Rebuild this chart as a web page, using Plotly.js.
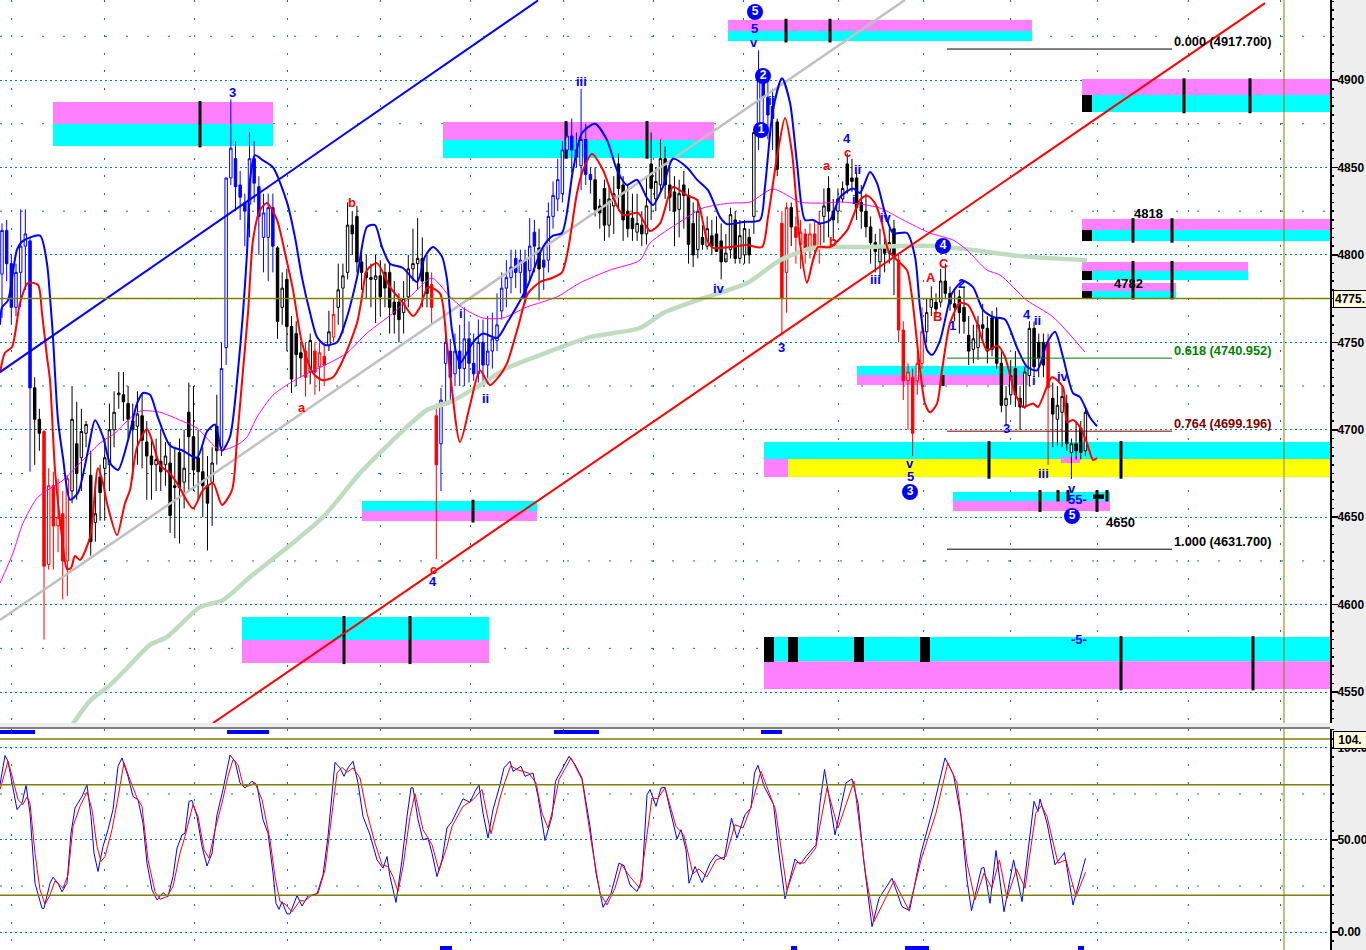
<!DOCTYPE html>
<html><head><meta charset="utf-8">
<script src="https://cdn.plot.ly/plotly-3.0.1.min.js"></script>
<style>html,body{margin:0;padding:0;background:#eee;overflow:hidden}#c{width:1366px;height:950px}</style>
</head><body><div id="c"></div>
<script>
// candle rows: open, close, high, low
const barsA=[
[4789,4814,4818,4764],[4814,4795,4820,4785],[4795,4770,4800,4760],[4770,4790,4795,4765],[4790,4805,4826,4770],[4805,4812,4826,4780],[4808,4724,4810,4676],
[4724,4706,4730,4680],[4706,4698,4712,4688],[4699,4622,4700,4580],[4623,4668,4678,4620],[4668,4645,4676,4620],[4645,4650,4672,4630],[4652,4625,4665,4603],[4625,4672,4674,4605],
[4665,4706,4725,4658],[4692,4675,4716,4660],[4684,4699,4712,4665],[4698,4703,4705,4690],[4674,4636,4688,4628],[4647,4652,4670,4636],[4673,4664,4680,4648],[4678,4684,4695,4648],
[4680,4700,4715,4665],[4700,4710,4722,4690],[4720,4721,4733,4712],[4720,4716,4733,4705],[4715,4706,4725,4695],[4705,4700,4715,4672],[4702,4709,4722,4680],[4708,4694,4720,4678],
[4693,4685,4705,4660],[4685,4680,4695,4660],[4680,4683,4695,4665],[4682,4676,4700,4665],[4680,4685,4693,4668],[4681,4651,4693,4641],[4668,4667,4690,4638],[4687,4667,4695,4635],
[4670,4678,4700,4655],[4710,4696,4727,4665],[4696,4677,4725,4665],[4684,4676,4700,4660],[4676,4668,4690,4650],[4668,4658,4685,4631],[4670,4681,4690,4645],[4702,4688,4720,4680],[4690,4735,4750,4685],
[4747,4844,4844,4737],[4844,4861,4889,4840],[4855,4839,4865,4825],[4840,4833,4848,4820],[4830,4825,4835,4805],[4829,4855,4870,4810],[4855,4841,4865,4830],[4839,4822,4845,4800],
[4810,4824,4835,4790],[4810,4827,4835,4785],[4827,4805,4835,4790],[4804,4762,4805,4752],
[4770,4781,4790,4760],[4786,4759,4792,4745],[4759,4729,4765,4721],[4755,4743,4762,4725],[4744,4741,4750,4730],[4745,4730,4750,4719],[4733,4751,4755,4726],[4745,4733,4750,4720],
[4736,4744,4750,4722],[4742,4737,4750,4725],[4748,4756,4768,4745],[4753,4766,4775,4750],[4770,4780,4795,4760]];
const barsB=[
[4781,4788,4795,4755],[4790,4817,4830,4786],[4817,4812,4825,4800],[4822,4796,4828,4790],[4796,4790,4803,4780],[4790,4787,4800,4775],[4787,4786,4795,4770],[4786,4788,4800,4761],
[4788,4776,4797,4765],[4790,4781,4795,4770],[4790,4770,4795,4755],[4773,4766,4785,4755],[4773,4763,4778,4750],[4767,4775,4785,4755],[4776,4792,4800,4770],[4792,4795,4815,4785],
[4795,4798,4821,4780],[4798,4785,4810,4770],[4790,4778,4800,4770],[4783,4770,4790,4760],
[4708,4680,4715,4626],[4692,4717,4724,4665],
[4738,4750,4760,4715],[4745,4730,4752,4715],[4732,4745,4755,4725],[4745,4735,4760,4725],[4735,4752,4770,4725],[4752,4738,4762,4727],[4738,4732,4755,4728],[4732,4750,4763,4727],[4750,4737,4763,4725],[4737,4745,4765,4726],
[4745,4752,4767,4735],[4751,4760,4778,4745],[4768,4781,4790,4763],[4781,4787,4797,4770],[4787,4793,4803,4778],[4798,4790,4803,4781],[4790,4797,4803,4778],[4797,4775,4803,4772],[4791,4805,4821,4785],[4813,4805,4820,4790],[4804,4792,4815,4774],
[4797,4793,4805,4780],
[4797,4822,4830,4790],[4822,4834,4842,4815],[4832,4843,4855,4825],[4835,4860,4865,4830],[4860,4868,4875,4855],[4868,4860,4878,4847],[4860,4856,4870,4850],[4851,4866,4895,4837],[4866,4846,4875,4840],[4846,4843,4850,4835],[4843,4826,4850,4822],
[4828,4824,4832,4815],[4838,4817,4843,4808],[4817,4832,4840,4810],[4828,4835,4845,4812],[4852,4838,4858,4825],[4840,4820,4845,4808],[4825,4815,4840,4810],[4821,4815,4835,4808],[4813,4818,4835,4808],[4817,4812,4825,4805],[4812,4828,4845,4806],[4852,4838,4870,4820],[4832,4842,4850,4825],
[4840,4855,4866,4835],[4855,4840,4862,4832],[4840,4833,4850,4825],[4836,4825,4845,4805],[4826,4835,4843,4810],[4840,4834,4848,4815],[4834,4806,4838,4795],[4818,4800,4830,4793],[4803,4825,4832,4798],[4810,4806,4817,4803],[4805,4815,4822,4803],[4811,4805,4820,4800],[4812,4802,4822,4803],[4808,4796,4818,4786],[4796,4801,4812,4798],[4803,4823,4827,4798],[4820,4798,4825,4795],[4798,4811,4820,4795],[4800,4815,4820,4795],[4810,4800,4815,4795]];
const barsC=[
[4822,4870,4870,4812],[4870,4905,4917,4860],[4905,4890,4905,4868],[4890,4880,4900,4866],[4885,4878,4895,4860],[4876,4849,4878,4845],
[4818,4775,4825,4754],[4790,4827,4830,4767],[4827,4816,4830,4805],[4816,4810,4822,4795],[4806,4813,4820,4792],[4812,4803,4815,4795],[4803,4812,4818,4798],[4812,4804,4820,4798],[4804,4818,4825,4795],
[4822,4828,4838,4807],[4838,4825,4845,4810],[4825,4820,4832,4808],[4825,4832,4838,4818],[4832,4838,4842,4830],[4852,4840,4858,4835],[4844,4842,4855,4836],[4844,4827,4847,4820],[4830,4825,4840,4815],[4825,4816,4835,4810],[4816,4807,4822,4795],[4807,4802,4812,4790],[4796,4804,4815,4787],[4804,4801,4812,4790],[4801,4807,4815,4795],[4815,4800,4820,4777],
[4797,4757,4800,4750],[4757,4728,4762,4717],[4728,4733,4738,4700],[4730,4698,4735,4685],[4728,4738,4745,4720],[4738,4756,4770,4735],
[4756,4767,4775,4750],[4770,4775,4782,4765],[4773,4769,4778,4765],[4773,4785,4792,4770],[4785,4778,4795,4775],[4778,4772,4782,4768],[4772,4770,4780,4762],[4776,4767,4780,4755],[4770,4762,4782,4755],[4754,4745,4765,4737],[4746,4752,4760,4738],[4747,4760,4765,4740],[4760,4758,4772,4750],[4758,4745,4765,4738],[4764,4746,4768,4742],[4764,4738,4770,4735],[4738,4714,4745,4710],[4714,4718,4725,4702],[4720,4731,4740,4715],[4735,4720,4745,4713],[4718,4713,4725,4700],[4713,4733,4736,4712],[4731,4758,4762,4725],[4758,4736,4762,4730],[4750,4741,4755,4730],[4750,4737,4755,4730],
[4750,4724,4755,4680],[4718,4709,4727,4690],[4706,4714,4725,4691],[4710,4719,4725,4690],[4715,4692,4720,4688],[4687,4692,4695,4672],[4692,4688,4705,4683],[4701,4687,4705,4683],[4688,4710,4713,4685]];
// index ranges of bars drawn in blue and in red
const blueBarRanges=[[0,6],[47,58],[94,114],[116,126],[162,165]];
const redBarRanges=[[9,14],[65,65],[67,69],[71,71],[92,93],[167,168],[170,175],[192,197],[224,224]];

const blueX=[0,2,8,17,23,40,47,50,53,55,58,63,70,78,88,95,103,110,118,128,137,143,150,158,170,183,197,207,215,222,230,238,247,250,255,263,273,287,295,302,310,317,325,337,347,357,367,375,382,390,403,417,425,433,442,447,452,460,473,483,497,507,527,543,553,562,573,582,595,607,617,627,637,647,653,663,673,687,697,708,720,727,743,760,765,773,782,790,797,805,813,820,830,840,853,860,870,877,885,893,907,915,920,927,932,940,952,963,973,983,993,1005,1017,1027,1037,1047,1055,1063,1073,1080,1090,1097];
const blueY=[4760,4770,4774,4803,4808,4811,4795,4776,4753,4732,4705.5,4684,4660,4664,4688,4705.5,4696,4681,4677,4694,4715,4721,4720,4707,4691,4688,4684,4699,4703,4688,4696,4734,4801,4843,4857,4854,4850,4830,4810,4787,4767,4753,4748.5,4750,4764.5,4787,4816,4817,4804.5,4795,4792.5,4784.5,4799,4804.5,4799,4786,4757,4738,4750,4755,4752.5,4761,4781.5,4804.5,4811,4812.5,4848.5,4869.7,4875,4865.7,4848.5,4840,4843,4832.5,4828.5,4839,4855,4850,4843,4837,4821.6,4817.6,4818.8,4820,4839,4883,4901,4887,4852.5,4820,4820,4818,4820,4833,4838,4835.4,4847.4,4841,4824,4812.5,4812.5,4799,4770,4745.6,4742.7,4751,4778,4785,4781.6,4768.5,4764.5,4763,4747,4736,4734,4749.6,4756,4741.6,4721,4718.7,4707,4702];
const redX=[0,5,12,20,28,38,42,47,50,55,62,67,71,75,80,90,98,103,107,117,125,130,137,147,152,160,170,177,193,203,213,222,232,237,243,248,253,260,267,277,285,293,302,313,322,333,343,357,362,367,377,390,403,413,420,428,440,447,460,470,480,490,500,507,518,528,540,552,562,568,577,583,592,603,613,623,638,650,660,673,687,697,707,713,730,747,762,768,777,785,792,800,807,813,818,830,847,860,867,875,882,888,897,907,912,925,930,937,942,950,960,968,977,987,998,1005,1015,1023,1033,1038,1052,1063,1067,1073,1080,1087,1093,1097];
const redY=[4732.4,4744,4747.3,4772.5,4784,4782.8,4766.7,4741.6,4728.4,4677,4638.6,4620.3,4621,4627.8,4625.5,4638.6,4678,4669.5,4658,4639.8,4658,4665.5,4690,4700.4,4694,4679.8,4675,4669.5,4655,4665.5,4669.5,4657,4665.5,4694,4734,4766.7,4808.5,4825.6,4829.6,4820,4801,4780,4749.6,4732.4,4728.4,4730,4740,4761,4776,4791.3,4795.3,4781.6,4772.5,4765,4770,4781.6,4778,4748.5,4693,4714,4734,4725.5,4731.3,4738,4758.7,4778,4784.5,4786.8,4790,4802.8,4835.4,4848.5,4857.7,4848.5,4833,4822.8,4824,4813.6,4818,4838.8,4834,4831.4,4808.5,4804,4804.5,4805.6,4804.5,4821.6,4856,4878.3,4858.3,4806.8,4784,4797,4804.5,4804.5,4814,4831.4,4834,4829.6,4818,4803,4797,4791.3,4776,4715,4710,4715,4734,4761,4772.5,4771.3,4761,4745.6,4748,4741.6,4721,4713,4715,4713,4730,4724.4,4704.4,4705.6,4701.5,4692.4,4682.7,4683.8];
const avgX=[0,13,23,38,63,83,100,115,128,140,160,180,197,220,237,247,257,273,290,310,325,347,367,393,417,432,450,463,483,503,527,557,580,610,640,650,683,703,730,750,773,800,820,843,880,903,930,953,967,987,1000,1027,1053,1085];
const avgY=[4612.3,4629.5,4646.6,4661.5,4671.2,4682.7,4692.4,4698,4705.5,4710.7,4710,4705.5,4701,4688.4,4691.3,4695.8,4707.3,4719.8,4726.7,4733,4737,4743.9,4755.3,4766.7,4779.9,4786.8,4776,4769.6,4763.9,4763.9,4770.2,4776,4784,4791.3,4797,4806.8,4820,4826.8,4829.6,4830.2,4837.7,4830.2,4829.6,4830.2,4826.8,4820,4812.5,4808.5,4802.8,4791.3,4788.5,4774,4764.5,4744.4];
const longAvgX=[72,90,110,127,150,167,200,223,250,290,323,360,390,427,450,480,507,540,590,640,663,697,747,780,813,830,867,893,937,973,1020,1087];
const longAvgY=[4531,4545,4554,4563.7,4577,4581.5,4598.6,4602.6,4615.8,4634,4650,4675.2,4692.4,4711.3,4715.8,4725.5,4735.3,4742.7,4753,4758.2,4766.7,4774,4783.9,4797,4803.9,4804.5,4804.5,4805,4805,4802.8,4799.3,4797];
const trendBlueX=[0,538], trendBlueY=[4733,4945.5];
const trendGreyX=[0,905], trendGreyY=[4591.2,4945.75];
const trendRedX=[213,1265], trendRedY=[4532.3,4944];

// oscillator: bar position, value
const fastRowsA=[[0,80.1],[5,95.9],[8,92.8],[12,81],[17,66.5],[22,70],[26,79.7],[30,64.6],[33,42.8],[35,26.5],[42,12.9],[44,12.9],[50,26.5],[53,29.8],[58,26.5],[62,21.8],[67,26.5],[71,53.7],[75,67.4],[82,73.7],[87,80],[91,62.8],[94,42.8],[98,32.9],[103,46.5],[108,55.6],[113,66.5],[118,90],[122,94.6],[128,84.6],[133,73.7],[138,71.9],[143,59.2],[147,37.4],[152,22.9],[157,17.4],[163,21.4],[168,19.2],[173,30.1],[177,45.6],[182,52.8],[185,53.7],[189,71],[192,71.5],[197,62.8],[202,46.5],[207,35.9],[212,42.8],[217,63.7],[223,77.4],[230,96.1],[235,92.8],[240,81],[245,78.3],[252,81.9],[257,80],[263,61],[268,53.7],[273,32],[276,15.6],[279,12.3],[282,16.5],[287,9.8],[290,9.8],[297,19.8],[302,14.1],[308,19.6],[317,20.7],[323,31],[328,51.9],[335,92.2],[340,89.2],[344,84.6],[348,89.2],[353,92.8],[358,81],[363,62.8],[370,52.8],[377,39.2],[383,34.7],[387,41],[390,30.1],[396,16.1],[402,39.2],[407,62.8],[411,78.3],[413,78.3],[418,61],[423,50.1],[428,51],[432,42.8],[437,30.1],[442,39.2],[447,56.5],[452,60.1],[458,66.5],[463,72.4],[470,70.4],[475,76.4],[479,80],[483,64.6],[488,51],[493,66.5],[500,80]];
const fastRowsB=[[504,89.2],[510,92.8],[513,87.3],[521,90],[525,84.6],[533,86.4],[538,73.7],[545,49.7],[552,62.8],[555.5,81.9],[563,89.2],[569,95.5],[575,91],[582,83.7],[590,57.4],[596,32],[603,13.4],[611,21],[619,37.4],[624,36.1],[630,25.6],[637,22],[642,28.3],[647,74.6],[650,77.4],[656,68.3],[661,78.3],[665,78.6],[670,66.5],[677,50.5],[681,55.6],[686,44.7],[689,26.5],[695,35.6],[702,26.9],[710,37.4],[716,42],[724,39.2],[731.5,61.9],[737,51],[745,63.7],[751,67.4],[754.5,86.4],[758,90.6],[764,79.2],[773.6,69.2],[779,42.8],[785,18],[795,39.7],[800,36.8],[806,41],[816,47.4],[820,70],[824.5,88.3],[829,73.7],[835,52.8],[846,81],[852,83.2],[858,70],[863.6,39.2],[872,2.9],[879,18.3],[892,29.2],[902,13.8],[909.5,11.6],[921,42.8],[934,69.2],[945,94.6],[953.5,85.5],[961,62.8],[967,28.3],[971.5,11.6],[981.5,34.7],[984,35],[990,15.6],[996,44.3],[1004,11],[1013.6,39.2],[1022,16.5],[1034,71],[1038,65.5],[1040,72.3],[1047,59.2],[1055,36.5],[1064.5,43.2],[1073,14.7],[1085.5,40.1]];
const slowRowsA=[[0,77.4],[4,84.6],[8,92.8],[13,82.8],[18,71.9],[23,69.2],[27,73.4],[30,70],[35,42.8],[40,22.9],[45,15.1],[50,20.1],[55,27.8],[63,23.8],[68,31],[73,57.4],[80,68.3],[87,76.1],[92,66.5],[97,46.5],[101,38.3],[105,41],[112,55.6],[117,70],[124,91.9],[130,82.8],[137,72.8],[142,68.3],[148,39.2],[155,21.9],[160,17.8],[167,19.2],[173,24.7],[180,42.8],[185,52],[193,69.2],[198,62.8],[204,44.7],[209,40.1],[215,55.6],[222,70.1],[228,84.6],[233,93.7],[238,91],[243,80],[248,79.2],[255,81],[262,71.9],[270,50.1],[275,30.1],[280,16.5],[285,15.2],[292,11],[300,17],[305,16.9],[312,20.1],[318,21],[325,33.8],[332,64.6],[337,86.4],[342,89.5],[347,86.8],[353,89.2],[360,83.7],[367,64.6],[375,48.3],[382,36.5],[388,35.6],[393,30.1],[398,22],[403,35.6],[410,62.8],[415,75.2],[423,55.6],[432,47.4],[439,33.4],[447,46.5],[452,57.4],[463,68.3],[473,71.9],[482,77.4],[487,64.6],[491,53.4],[500,72.8]];
const slowRowsB=[[504.6,81],[510.7,90.4],[517,88.2],[528.7,86.4],[536,81],[542,64.6],[548,56.5],[553.6,68.3],[559,82.8],[571,94.6],[582,82.8],[592,46.5],[600,21],[607,14.7],[615,23.8],[621.7,36.5],[630,30.1],[639.7,23.8],[647,53.7],[652,72.8],[657.7,72.4],[665,78.3],[676,57.4],[683.7,52.8],[693,31.6],[699,34.3],[706.7,29.8],[716,39.2],[725.8,41],[735,58.3],[743,56.5],[750.7,67.4],[761,87.3],[775.5,66.5],[787,22.9],[796.6,37.8],[804,37.4],[815.7,45.6],[827,78.3],[838,56.5],[854,81.9],[865.5,32],[874,5.6],[894,27.8],[908.7,12],[921,39.2],[936,64.6],[947.8,91.9],[957,81],[967,37.4],[975,17.4],[984,32],[991.8,23.8],[999.4,39.2],[1007,18.3],[1016.6,34.3],[1025,23.8],[1035.8,64.6],[1041.5,68.8],[1047,62.8],[1058,37.4],[1066,39.2],[1076,19.2],[1085.5,32.5]];

// target zones: x start, x end, upper price, lower price, colour name
const zoneRows=[
[53,273,4887.4,4874.8,'pink'],[53,273,4874.8,4862.3,'cyan'],
[443,714,4876,4865.7,'pink'],[443,714,4865.7,4855.4,'cyan'],
[728,1032,4934.3,4928,'pink'],[728,1032,4928,4922.3,'cyan'],
[1082,1330,4900.6,4891.4,'pink'],[1082,1330,4891.4,4881.7,'cyan'],
[1082,1330,4820.5,4814.2,'pink'],[1082,1330,4814.2,4807.9,'cyan'],
[1082,1248,4795.9,4790.8,'pink'],[1082,1248,4790.8,4785.6,'cyan'],
[1082,1176,4783.9,4779.3,'pink'],[1082,1176,4779.3,4775.3,'cyan'],
[857,1028,4736.4,4731.3,'cyan'],[857,1028,4731.3,4725.6,'pink'],
[764,1330,4693,4683.3,'cyan'],[764,788,4683.3,4673,'pink'],[788,1330,4683.3,4673,'yellow'],[1061,1080,4684.4,4681,'pink'],
[953,1110,4664.4,4659.2,'cyan'],[953,1110,4659.2,4653.5,'pink'],
[362,537,4659.2,4653.5,'cyan'],[362,537,4653.5,4647.8,'pink'],
[242,489,4592.9,4579.8,'cyan'],[242,489,4579.8,4566.6,'pink'],
[764,1330,4581.5,4567.7,'cyan'],[764,1330,4567.7,4551.7,'pink']];
// zone markers: x, upper price, lower price
const zoneTicks=[
[200,4888,4861.5],[566,4876.5,4855],[647,4876.5,4855],[786,4935,4921.5],[830,4935,4921.5],
[1184,4901,4881],[1250,4901,4881],[1133,4821,4807],[1172,4821,4807],[1133,4796.5,4784],[1172,4796.5,4784],[1133,4784,4774.5],[1172,4784,4774.5],
[943,4731.3,4725],[989,4693.5,4672],[1121,4693.5,4672],[1040,4665.5,4653],[1058,4665.5,4659],[1068,4665.5,4659],[1097,4665.5,4653],[1107,4665.5,4659],
[473,4660,4647],[344,4593.5,4566],[410,4593.5,4566],[1121,4582,4551],[1253,4582,4551]];
const zoneSquares=[
[1082,1092,4891.4,4881.7],[1082,1092,4814.2,4807.9],[1082,1092,4790.8,4785.6],[1082,1092,4779.3,4775.3],
[764,774,4581.5,4567.2],[788,798,4581.5,4567.2],[854,864,4581.5,4567.2],[920,930,4581.5,4567.2],[1093,1104,4663,4660.5]];
const priceGridFine=[4925,4875,4825,4775,4725,4675,4625,4575];
const oscGridFine=[75,25];
const gridColumns=[11,104,194,287,380,470,563,653,743,838,923,1010,1097,1188,1280];
const signalTop=[[0,35],[227,269],[554,599],[761,782]];
const signalBottom=[[440,452],[791,797],[905,929],[1078,1084]];

// labels: text, x, price
const blueLabels=[['3',232,4892.6],['iii',581,4899.4],['5',754,4929.7],['v',754,4921.7],['i',461,4766.7],['ii',485,4718.1],['iv',719,4780.5],['3',781,4747.3],['4',433,4613.5],['4',847,4866.8],['ii',857,4849.1],['i',854,4831.4],['iv',886,4821.6],['iii',875,4786.2],['2',961,4783.9],['1',952,4759.9],['4',1027,4766.2],['ii',1037,4762.7],['i',1034,4728.4],['iv',1063,4730.7],['3',1006,4701],['iii',1043,4675.2],['v',910,4681],['5',910,4673.5],['v',1072,4666.7],['55-',1077,4660.4],['-5-',1079,4580.3],['ii',771,4888]];
const redLabels=[['b',352,4830.2],['a',302,4713],['c',433,4620.3],['a',827,4851.4],['c',847,4858.8],['b',833,4807.9],['A',931,4787.3],['B',937,4765],['C',944,4795.3]];
const blackLabels=[['4818',1148,4823.4],['4782',1128,4783.9],['4650',1120,4647.2]];
const circleText=['5','2','1','4','3','5'];
const circleX=[755,763,761,943,910,1072];
const circleY=[4938.9,4902.3,4871.4,4805.1,4664.4,4650.7];
// fibonacci levels: ratio text, price, colour
const fibText=['0.000 (4917.700)','0.618 (4740.952)','0.764 (4699.196)','1.000 (4631.700)'];
const fibPrice=[4917.7,4740.952,4699.196,4631.7];
const fibColor=['#000000','#008000','#800000','#000000'];
const currentPrice=4775, oscLevels=[104.9,80,20], markerX=1284;

const zoneColor={pink:'#FF80FF',cyan:'#00FFFF',yellow:'#FFFF00'};
const F='"Liberation Sans",Arial,sans-serif';
const rows=barsA.concat(barsB,barsC);
const barX=rows.map((_,i)=>2+i*4.67);
const inR=(r,i)=>r.some(a=>i>=a[0]&&i<=a[1]);
function candle(color,test){
  const s=rows.map((_,i)=>i).filter(test);
  return {type:'candlestick',x:s.map(i=>barX[i]),open:s.map(i=>rows[i][0]),close:s.map(i=>rows[i][1]),high:s.map(i=>rows[i][2]),low:s.map(i=>rows[i][3]),
    xaxis:'x',yaxis:'y',whiskerwidth:0,hoverinfo:'skip',showlegend:false,
    increasing:{line:{color,width:1},fillcolor:'#FFFFFF'},decreasing:{line:{color,width:1},fillcolor:color}};
}
const ln=(x,y,color,width,xa,ya,smooth)=>({type:'scatter',mode:'lines',x,y,xaxis:xa||'x',yaxis:ya||'y',line:smooth?{color,width,shape:'spline',smoothing:0.7}:{color,width},hoverinfo:'skip',showlegend:false});
const fastRows=fastRowsA.concat(fastRowsB), slowRows=slowRowsA.concat(slowRowsB);
const data=[
 candle('#000000',i=>!inR(blueBarRanges,i)&&!inR(redBarRanges,i)),
 candle('#0000FF',i=>inR(blueBarRanges,i)),
 candle('#FF0000',i=>inR(redBarRanges,i)),
 ln(trendGreyX,trendGreyY,'#C0C0C0',2.5),
 ln(longAvgX,longAvgY,'#C0DCC0',4.5,'x','y',true),
 ln(avgX,avgY,'#FF00FF',1,'x','y',true),
 ln(blueX,blueY,'#0000FF',2,'x','y',true),
 ln(redX,redY,'#FF0000',2,'x','y',true),
 ln(trendBlueX,trendBlueY,'#0000FF',2),
 ln(trendRedX,trendRedY,'#FF0000',2),
 ln(fastRows.map(r=>r[0]),fastRows.map(r=>r[1]),'#0000FF',1,'x2','y2'),
 ln(slowRows.map(r=>r[0]),slowRows.map(r=>r[1]),'#FF0000',1,'x2','y2'),
 {type:'scatter',mode:'markers+text',x:circleX,y:circleY,text:circleText,textposition:'middle center',
  textfont:{family:F,size:12,color:'#FFFFFF',weight:700},marker:{size:16,color:'#0000FF'},hoverinfo:'skip',showlegend:false,xaxis:'x',yaxis:'y'}
];
const shapes=[];
const hdash=(y,yref,dash)=>shapes.push({type:'line',layer:'below',xref:'x',yref,x0:0,x1:1330,y0:y,y1:y,line:{color:'#008080',width:1,dash}});
priceGridFine.forEach(v=>hdash(v,'y','2px,19px'));
oscGridFine.forEach(v=>hdash(v,'y2','2px,19px'));
zoneRows.forEach(z=>shapes.push({type:'rect',layer:'between',xref:'x',yref:'y',x0:z[0],x1:z[1],y0:z[2],y1:z[3],fillcolor:zoneColor[z[4]],line:{width:0}}));
zoneSquares.forEach(z=>shapes.push({type:'rect',layer:'between',xref:'x',yref:'y',x0:z[0],x1:z[1],y0:z[2],y1:z[3],fillcolor:'#000',line:{width:0}}));
zoneTicks.forEach(t=>shapes.push({type:'line',layer:'between',xref:'x',yref:'y',x0:t[0],x1:t[0],y0:t[1],y1:t[2],line:{color:'#000',width:3}}));
fibPrice.forEach((p,i)=>shapes.push({type:'line',layer:'above',xref:'x',yref:'y',x0:947,x1:1172,y0:p,y1:p,line:{color:fibColor[i],width:1}}));
shapes.push({type:'line',layer:'above',xref:'x',yref:'y',x0:0,x1:1330,y0:currentPrice,y1:currentPrice,line:{color:'#808000',width:1.5}});
oscLevels.forEach(v=>shapes.push({type:'line',layer:'above',xref:'x',yref:'y2',x0:0,x1:1330,y0:v,y1:v,line:{color:'#808000',width:1.5}}));
shapes.push({type:'line',layer:'above',xref:'x',yref:'paper',x0:markerX,x1:markerX,y0:0.2389,y1:1,line:{color:'#808000',width:1}});
shapes.push({type:'line',layer:'above',xref:'x',yref:'paper',x0:markerX,x1:markerX,y0:0,y1:0.2326,line:{color:'#808000',width:1}});
shapes.push({type:'line',layer:'above',xref:'paper',yref:'paper',x0:0,x1:1,y0:0.2337,y1:0.2337,line:{color:'#808080',width:2}});
signalTop.forEach(s=>shapes.push({type:'rect',layer:'above',xref:'x',yref:'y2',x0:s[0],x1:s[1],y0:109.8,y1:107.6,fillcolor:'#0000FF',line:{width:0}}));
signalBottom.forEach(s=>shapes.push({type:'rect',layer:'above',xref:'x',yref:'y2',x0:s[0],x1:s[1],y0:-7.6,y1:-9.8,fillcolor:'#0000FF',line:{width:0}}));

const annotations=[];
const lab=(l,color,size)=>annotations.push({xref:'x',yref:'y',x:l[1],y:l[2],text:l[0],showarrow:false,xanchor:'center',yanchor:'middle',font:{family:F,size,color,weight:700}});
blueLabels.forEach(l=>lab(l,'#0000FF',13));
redLabels.forEach(l=>lab(l,'#FF0000',13));
blackLabels.forEach(l=>lab(l,'#000000',13));
fibText.forEach((t,i)=>annotations.push({xref:'x',yref:'y',x:1172,y:fibPrice[i],yshift:8,text:t,showarrow:false,xanchor:'left',yanchor:'middle',font:{family:F,size:12.8,color:fibColor[i],weight:700}}));
const box=(t,ya,v)=>annotations.push({xref:'paper',yref:ya,x:1333/1330,y:v,text:t,showarrow:false,xanchor:'left',yanchor:'middle',align:'left',
  bgcolor:'#FFFFE0',bordercolor:'#000',borderwidth:1,borderpad:1,font:{family:F,size:12,color:'#000',weight:700}});
box('4775.','y',currentPrice);
box('&nbsp;104.&nbsp;','y2',104.6);

const tickFont={family:F,size:12,color:'#000',weight:700};
const layout={
 width:1366,height:950,margin:{l:0,r:36,t:0,b:0,pad:0},paper_bgcolor:'#EEEEEE',plot_bgcolor:'#FFFFFF',
 showlegend:false,boxmode:'overlay',boxgap:0.25,hovermode:false,dragmode:false,
 xaxis:{domain:[0,1],range:[0,1330],anchor:'y',tickmode:'array',tickvals:gridColumns,showticklabels:false,ticks:'',showgrid:true,gridcolor:'#008080',griddash:'2px,15.5px',gridwidth:1,zeroline:false,rangeslider:{visible:false},showline:false},
 xaxis2:{domain:[0,1],range:[0,1330],anchor:'y2',tickmode:'array',tickvals:gridColumns,showticklabels:false,ticks:'',showgrid:true,gridcolor:'#008080',griddash:'2px,15.5px',gridwidth:1,zeroline:false,showline:false},
 yaxis:{domain:[0.2389,1],range:[4532.3,4945.75],side:'right',anchor:'x',dtick:50,tick0:4550,tickformat:'d',ticks:'outside',ticklen:6,tickwidth:1.5,tickcolor:'#000',tickfont:tickFont,ticklabelstandoff:-3,showline:true,linecolor:'#000',linewidth:2,showgrid:true,gridcolor:'#008080',griddash:'2px,3px',gridwidth:1,zeroline:false,minor:{dtick:5,ticks:'outside',ticklen:2,tickcolor:'#000',showgrid:false}},
 yaxis2:{domain:[0,0.2326],range:[-9.78,110.3],side:'right',anchor:'x2',tickmode:'array',tickvals:[0,50,100],ticktext:['0.00','50.00','100.0'],ticks:'outside',ticklen:6,tickwidth:1.5,tickcolor:'#000',tickfont:tickFont,ticklabelstandoff:-3,showline:true,linecolor:'#000',linewidth:2,showgrid:true,gridcolor:'#008080',griddash:'2px,3px',gridwidth:1,zeroline:false,minor:{dtick:5,ticks:'outside',ticklen:2,tickcolor:'#000',showgrid:false}},
 shapes,annotations
};
Plotly.newPlot('c',data,layout,{displayModeBar:false,staticPlot:true});
</script></body></html>
